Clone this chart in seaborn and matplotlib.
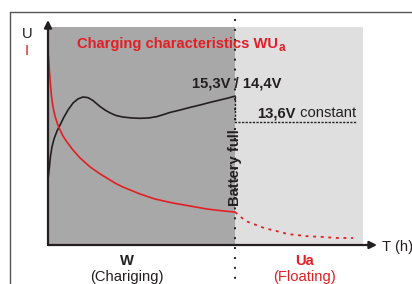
import matplotlib
matplotlib.use("Agg")
import matplotlib.pyplot as plt
import seaborn as sns
from matplotlib.lines import Line2D

# charging phase W: voltage U (black) and current I (red), time in arbitrary hours
t_charge_u = [0.0, 0.048, 0.080, 0.128, 0.192, 0.289, 0.385, 0.513, 0.641, 0.80,
              0.96, 1.12, 1.28, 1.44, 1.57, 1.67, 1.83, 1.99, 2.18, 2.40, 2.66,
              2.95, 3.24, 3.49, 3.72, 3.91, 4.23, 4.55, 4.87, 5.19, 5.51, 5.77, 6.0]
u_charge = [30.0, 36.2, 40.8, 45.0, 48.6, 52.3, 55.0, 58.7, 61.9, 65.1,
            67.0, 67.9, 67.6, 66.3, 64.7, 63.5, 61.9, 60.6, 59.4, 58.7, 58.3,
            58.1, 58.3, 58.9, 59.9, 60.8, 61.9, 63.1, 64.2, 65.4, 66.5, 67.4, 68.3]

t_charge_i = [0.0, 0.016, 0.048, 0.080, 0.112, 0.160, 0.224, 0.305, 0.385, 0.481,
              0.609, 0.80, 1.03, 1.35, 1.67, 1.89, 2.15, 2.40, 2.95, 3.43, 3.99,
              4.55, 5.10, 5.51, 6.0]
i_charge = [88.0, 86.2, 79.4, 73.4, 68.3, 63.3, 59.2, 55.5, 52.8, 50.0,
            47.2, 43.6, 39.9, 35.8, 32.6, 30.7, 28.4, 26.6, 23.4, 21.1, 19.3,
            17.9, 16.5, 15.8, 15.1]

# floating phase Ua
t_float_i = [6.0, 6.22, 6.41, 6.67, 6.93, 7.18, 7.44, 7.69, 7.98, 8.24, 8.78, 9.30, 9.78]
i_float = [15.1, 12.4, 10.6, 9.2, 7.8, 6.9, 6.0, 5.0, 4.6, 4.1, 3.7, 3.2, 3.2]

t_const = [6.0, 6.0, 9.87]
u_const = [68.3, 56.4, 56.4]

t_full = 6.0
t_end = 10.1

RED = "#e31e24"
INK = "#231f20"
W, H = 412, 284


def fxy(x, y):
    return x / W, 1 - y / H


sns.set_style("white")
plt.rcParams["font.family"] = ["Liberation Sans", "DejaVu Sans"]

fig = plt.figure(figsize=(W / 100, H / 100), dpi=100)
ax = fig.add_axes([48 / W, 39 / H, 315 / W, 218 / H])
ax.set_xlim(0, t_end)
ax.set_ylim(0, 100)
ax.axis("off")

ax.axvspan(0, t_full, color="#a8a8a8", lw=0, zorder=0)
ax.axvspan(t_full, t_end, color="#dfdfdf", lw=0, zorder=0)

sns.lineplot(x=t_charge_u, y=u_charge, ax=ax, color=INK, lw=1.2, zorder=3)
sns.lineplot(x=t_charge_i, y=i_charge, ax=ax, color=RED, lw=1.2, zorder=3)
sns.lineplot(x=t_float_i, y=i_float, ax=ax, color=RED, lw=1.3,
             linestyle=(0, (1.6, 2.6)), zorder=3)
ax.plot(t_const, u_const, color=INK, lw=1.0, linestyle=(0, (1.6, 1.0)), zorder=3)

# phase separator
ax.plot([t_full, t_full], [103.5, -18], color=INK, lw=1.4,
        linestyle=(0, (1, 4.1)), clip_on=False, zorder=4)

# axes with arrows
arrow = dict(arrowstyle="-|>", color=INK, lw=1.6, mutation_scale=11,
             shrinkA=0, shrinkB=0)
ax.annotate("", xy=(0, 103.2), xytext=(0, 0), arrowprops=arrow,
            annotation_clip=False, zorder=5)
ax.annotate("", xy=(10.55, 0), xytext=(0, 0), arrowprops=arrow,
            annotation_clip=False, zorder=5)

# outer frame
fig.add_artist(Line2D([10 / W, 10 / W], [0, 1 - 12 / H], color="#555555", lw=1.0))
fig.add_artist(Line2D([10 / W, 1], [1 - 12 / H, 1 - 12 / H], color="#555555", lw=1.0))

fs = 10.6
fig.text(*fxy(22, 38), "U", fontsize=fs, color=INK, va="baseline")
fig.text(*fxy(25, 55), "I", fontsize=fs, color=RED, va="baseline")

title = fig.text(*fxy(77, 48), "Charging characteristics WU", fontsize=fs,
                 fontweight="bold", color=RED, va="baseline")
ax.annotate("a", xy=(1, 0), xycoords=title, xytext=(0.5, -2),
            textcoords="offset points", fontsize=8.5, fontweight="bold",
            color=RED, va="bottom", ha="left")

fig.text(*fxy(192, 88), "15,3V / 14,4V", fontsize=fs, fontweight="bold",
         color=INK, va="baseline")
cv = fig.text(*fxy(257, 117), "13,6V", fontsize=fs, fontweight="bold",
              color=INK, va="baseline")
ax.annotate(" constant", xy=(1, 0), xycoords=cv, fontsize=fs, color=INK,
            va="bottom", ha="left")

fig.text(*fxy(234.5, 168), "Battery full", fontsize=fs, fontweight="bold",
         color=INK, rotation=90, ha="center", va="center")

fig.text(*fxy(127, 265), "W", fontsize=fs, fontweight="bold", color=INK,
         ha="center", va="baseline")
fig.text(*fxy(127, 281), "(Chariging)", fontsize=fs, color=INK,
         ha="center", va="baseline")
fig.text(*fxy(305, 265), "Ua", fontsize=fs, fontweight="bold", color=RED,
         ha="center", va="baseline")
fig.text(*fxy(305, 281), "(Floating)", fontsize=fs, color=RED,
         ha="center", va="baseline")
fig.text(*fxy(382, 251.5), "T (h)", fontsize=fs, color=INK, va="baseline")

fig.savefig("out.png", dpi=100, facecolor="white")
